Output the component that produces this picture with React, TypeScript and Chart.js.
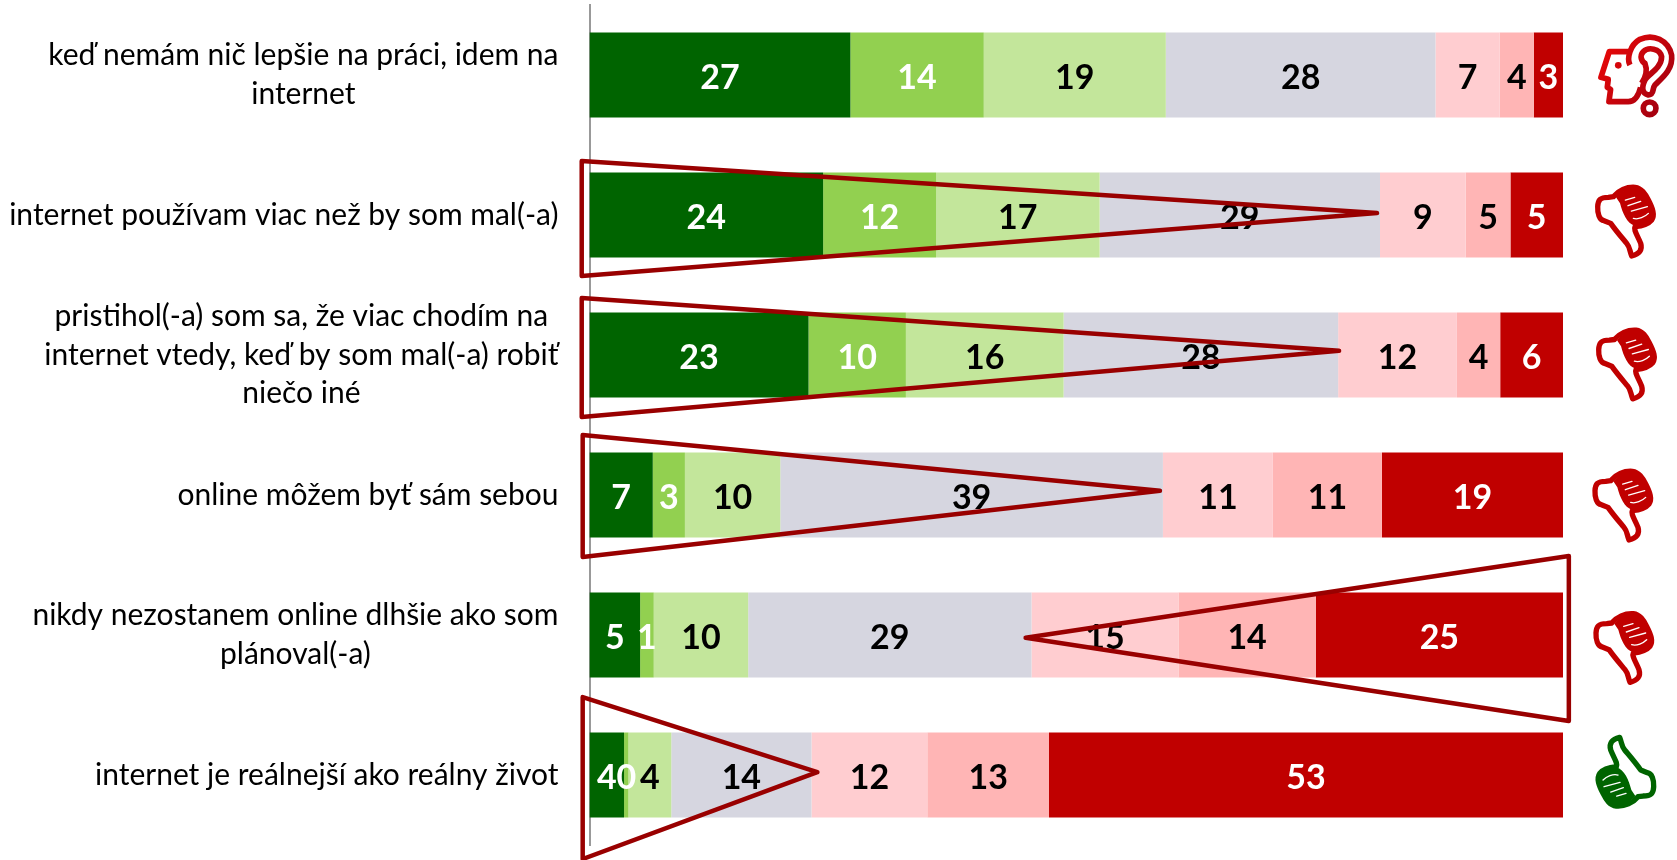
import React, { useEffect, useRef } from "react";
import { Chart, registerables, CategoryScale } from "chart.js";

const categories = [
  ["keď nemám nič lepšie na práci, idem na", "internet"],
  ["internet používam viac než by som mal(-a)"],
  ["pristihol(-a) som sa, že viac chodím na", "internet vtedy, keď by som mal(-a) robiť", "niečo iné"],
  ["online môžem byť sám sebou"],
  ["nikdy nezostanem online dlhšie ako som", "plánoval(-a)"],
  ["internet je reálnejší ako reálny život"],
];

const s1 = [26.8, 24.0, 22.5, 6.5, 5.2, 3.55];
const s2 = [13.7, 11.6, 10.0, 3.3, 1.4, 0.45];
const s3 = [18.7, 16.8, 16.2, 9.8, 9.7, 4.4];
const s4 = [27.7, 28.8, 28.2, 39.3, 29.1, 14.4];
const s5 = [6.6, 8.8, 12.2, 11.3, 15.1, 11.9];
const s6 = [3.5, 4.6, 4.45, 11.2, 14.1, 12.5];
const s7 = [3.0, 5.4, 6.45, 18.6, 25.4, 52.8];

const seriesValues = [s1, s2, s3, s4, s5, s6, s7];
const seriesColors = ["#006400", "#92D050", "#C3E69B", "#D6D6E0", "#FFCDD0", "#FFB5B5", "#C00000"];
const labelColors = ["#fff", "#fff", "#000", "#000", "#000", "#000", "#fff"];

// Highlight triangles: [base x, apex x, row, top, bottom, apex y] in axis units
const triangles = [
  [-0.8, 80.9, 1, -0.386, 0.436, -0.014],
  [-0.8, 77.0, 2, -0.407, 0.443, -0.03],
  [-0.7, 58.6, 3, -0.429, 0.443, -0.03],
  [100.6, 44.8, 4, -0.564, 0.614, 0.02],
  [-0.7, 23.4, 5, -0.557, 0.6, -0.02],
];

// Icons per row: kind, dx from bar end, dy from row centre
const icons: [string, number, number][] = [
  ["head", 73.6, 1],
  ["down", 62.7, 6.7],
  ["down", 63.7, 9.5],
  ["down", 60, 10.7],
  ["down", 61, 13],
  ["up", 62.7, -3.3],
];

const OUTLINE =
  "M612 662 C598 660 592 640 593 620 C594 600 600 592 625 592 L640 590 C655 572 680 560 705 562 C725 565 735 580 745 600 C758 625 765 645 755 660 C745 672 725 678 705 680 C700 690 712 705 722 730 C728 750 718 762 695 768 C688 750 690 742 680 730 C665 712 650 695 632 670 L612 662 Z";
const FIST =
  "M648 592 C665 570 690 562 710 565 C730 570 745 600 755 625 C765 650 745 672 705 678 C680 670 668 640 660 610 Z";
const STREAKS = [
  "M676 600 L704 592",
  "M684 617 L722 604",
  "M694 633 L742 620",
  "M700 655 C715 660 735 650 745 640",
];

function drawThumb(ctx: CanvasRenderingContext2D, color: string) {
  ctx.translate(-677, -665);
  ctx.strokeStyle = color;
  ctx.fillStyle = "#fff";
  ctx.lineWidth = 16;
  ctx.lineJoin = "round";
  const o = new Path2D(OUTLINE);
  ctx.fill(o);
  ctx.stroke(o);
  ctx.fillStyle = color;
  ctx.fill(new Path2D(FIST));
  ctx.strokeStyle = "#fff";
  ctx.lineWidth = 4;
  ctx.lineCap = "round";
  STREAKS.forEach((d) => ctx.stroke(new Path2D(d)));
}

function drawHead(ctx: CanvasRenderingContext2D) {
  ctx.translate(-710, -228);
  const g = ctx.createLinearGradient(600, 150, 820, 300);
  g.addColorStop(0, "#E80808");
  g.addColorStop(1, "#A00010");
  ctx.strokeStyle = g;
  ctx.fillStyle = g;
  ctx.lineWidth = 17;
  ctx.lineJoin = "round";
  ctx.stroke(
    new Path2D(
      "M690 155 L628 155 L603 232 L625 238 L622 262 L632 268 L627 305 L685 305 C705 305 715 290 722 262"
    )
  );
  ctx.stroke(
    new Path2D(
      "M690 195 C680 175 690 135 720 118 C760 100 805 120 815 165 C820 210 785 235 765 255 C755 268 765 282 745 285 C725 280 725 262 735 240 C745 222 785 205 785 170 C780 145 745 140 730 155 C718 168 725 185 735 190 C745 215 735 235 725 250"
    )
  );
  ctx.beginPath();
  ctx.arc(749, 325, 19, 0, Math.PI * 2);
  ctx.stroke();
  ctx.beginPath();
  ctx.arc(655, 196, 10, 0, Math.PI * 2);
  ctx.fill();
}

class CenteredCategoryScale extends CategoryScale {
  static id = "centeredCategory";
  static defaults = CategoryScale.defaults;
  _computeLabelItems(chartArea: any) {
    const items = (super._computeLabelItems as any)(chartArea);
    const right = (this as any).right - (this as any).options.ticks.padding;
    const ctx = (this as any).ctx;
    items.forEach((item: any) => {
      ctx.save();
      ctx.font = item.font.string;
      const lines = Array.isArray(item.label) ? item.label : [item.label];
      const w = Math.max(...lines.map((l: string) => ctx.measureText(l).width));
      ctx.restore();
      item.options.textAlign = "center";
      item.options.translation = [right - w / 2, item.options.translation[1]];
    });
    return items;
  }
}

Chart.register(...registerables, CenteredCategoryScale as any);

const segmentLabels = {
  id: "segmentLabels",
  afterDatasetsDraw(chart: any) {
    const ctx = chart.ctx;
    ctx.save();
    ctx.font = "bold 34px Lato";
    ctx.textAlign = "center";
    ctx.textBaseline = "middle";
    chart.data.datasets.forEach((ds: any, i: number) => {
      chart.getDatasetMeta(i).data.forEach((bar: any, j: number) => {
        ctx.fillStyle = labelColors[i];
        ctx.fillText(String(Math.round(ds.data[j])), (bar.x + bar.base) / 2, bar.y + 3);
      });
    });
    ctx.restore();
  },
};

const overlays = {
  id: "overlays",
  afterDraw(chart: any) {
    const ctx = chart.ctx;
    const x = chart.scales.x;
    const y = chart.scales.y;
    ctx.save();
    ctx.strokeStyle = "#990000";
    ctx.lineWidth = 4.5;
    ctx.lineJoin = "round";
    triangles.forEach(([bx, ax, row, top, bottom, apex]) => {
      ctx.beginPath();
      ctx.moveTo(x.getPixelForValue(bx), y.getPixelForValue(row + top));
      ctx.lineTo(x.getPixelForValue(ax), y.getPixelForValue(row + apex));
      ctx.lineTo(x.getPixelForValue(bx), y.getPixelForValue(row + bottom));
      ctx.closePath();
      ctx.stroke();
    });
    ctx.restore();
    icons.forEach(([kind, dx, dy], row) => {
      ctx.save();
      ctx.translate(chart.chartArea.right + dx, y.getPixelForValue(row) + dy);
      ctx.scale(1 / 3, 1 / 3);
      if (kind === "head") drawHead(ctx);
      else if (kind === "down") drawThumb(ctx, "#C00000");
      else {
        ctx.rotate(Math.PI);
        drawThumb(ctx, "#006400");
      }
      ctx.restore();
    });
  },
};

export default function App() {
  const ref = useRef<HTMLCanvasElement>(null);
  useEffect(() => {
    const chart = new Chart(ref.current as HTMLCanvasElement, {
      type: "bar",
      data: {
        labels: categories as any,
        datasets: seriesValues.map((data, i) => ({
          label: `s${i + 1}`,
          data,
          backgroundColor: seriesColors[i],
          borderWidth: 0,
          categoryPercentage: 1,
          barPercentage: 85 / 140,
        })),
      },
      options: {
        indexAxis: "y",
        animation: false,
        responsive: false,
        layout: { padding: { left: 0, right: 114, top: 5, bottom: 15 } },
        plugins: { legend: { display: false }, tooltip: { enabled: false } },
        scales: {
          x: { stacked: true, min: 0, max: 100, display: false },
          y: {
            type: "centeredCategory" as any,
            stacked: true,
            offset: true,
            afterFit: (s: any) => {
              s.width = 589.5;
              s.paddingTop = 0;
              s.paddingBottom = 0;
            },
            grid: { display: false, drawTicks: false },
            border: { display: true, color: "#999999", width: 2 },
            ticks: {
              padding: 31,
              color: "#000",
              autoSkip: false,
              font: { family: "Lato", size: 30, lineHeight: 1.283 },
            },
          },
        },
      },
      plugins: [segmentLabels, overlays],
    } as any);
    return () => chart.destroy();
  }, []);
  return (
    <div style={{ position: "absolute", left: 0, top: 0, width: 1677, height: 860, background: "#fff", overflow: "hidden" }}>
      <canvas ref={ref} width={1677} height={860} style={{ display: "block" }} />
    </div>
  );
}
